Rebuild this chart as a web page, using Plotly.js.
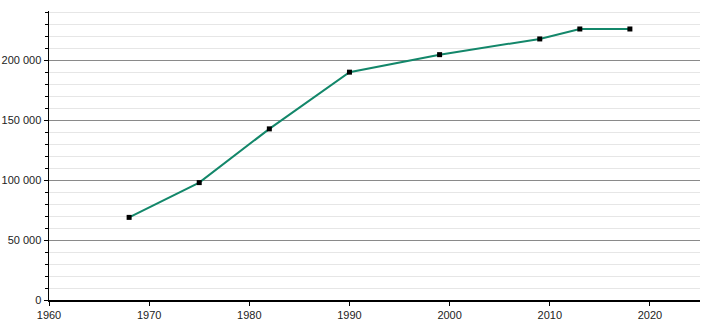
<!DOCTYPE html>
<html>
<head>
<meta charset="utf-8">
<script src="https://cdn.plot.ly/plotly-3.0.1.min.js"></script>
<style>html,body{margin:0;padding:0;background:#fff;}#chart{width:710px;height:320px;}</style>
</head>
<body>
<div id="chart"></div>
<script>
const years = [1968, 1975, 1982, 1990, 1999, 2009, 2013, 2018];
const population = [68900, 97900, 142700, 190000, 204600, 217700, 226000, 226000];

const trace = {
  x: years,
  y: population,
  type: 'scatter',
  mode: 'lines+markers',
  line: {color: '#13876a', width: 2},
  marker: {color: '#000', symbol: 'square', size: 5},
  hoverinfo: 'x+y'
};

const layout = {
  width: 710,
  height: 320,
  margin: {l: 49, r: 10, t: 11, b: 20},
  paper_bgcolor: '#fff',
  plot_bgcolor: '#fff',
  showlegend: false,
  separators: ', ',
  font: {family: 'Liberation Sans, Arial, sans-serif', size: 11, color: '#222'},
  xaxis: {
    range: [1960, 2025],
    dtick: 10,
    tick0: 1960,
    showgrid: false,
    zeroline: false,
    showline: true,
    linecolor: '#000',
    linewidth: 1.5,
    ticks: 'outside',
    ticklen: 4,
    tickcolor: '#000',
    tickfont: {size: 11}
  },
  yaxis: {
    range: [0, 241000],
    dtick: 50000,
    tick0: 0,
    separatethousands: true,
    tickformat: ',d',
    showgrid: true,
    gridcolor: '#8a8a8a',
    gridwidth: 1,
    zeroline: false,
    showline: true,
    linecolor: '#000',
    linewidth: 1.5,
    ticks: 'outside',
    ticklen: 4,
    tickcolor: '#000',
    tickfont: {size: 11},
    minor: {
      dtick: 10000,
      showgrid: true,
      gridcolor: '#e6e6e6',
      gridwidth: 1,
      ticks: 'outside',
      ticklen: 3,
      tickcolor: '#000'
    }
  }
};

Plotly.newPlot('chart', [trace], layout, {staticPlot: true, displayModeBar: false});
</script>
</body>
</html>
